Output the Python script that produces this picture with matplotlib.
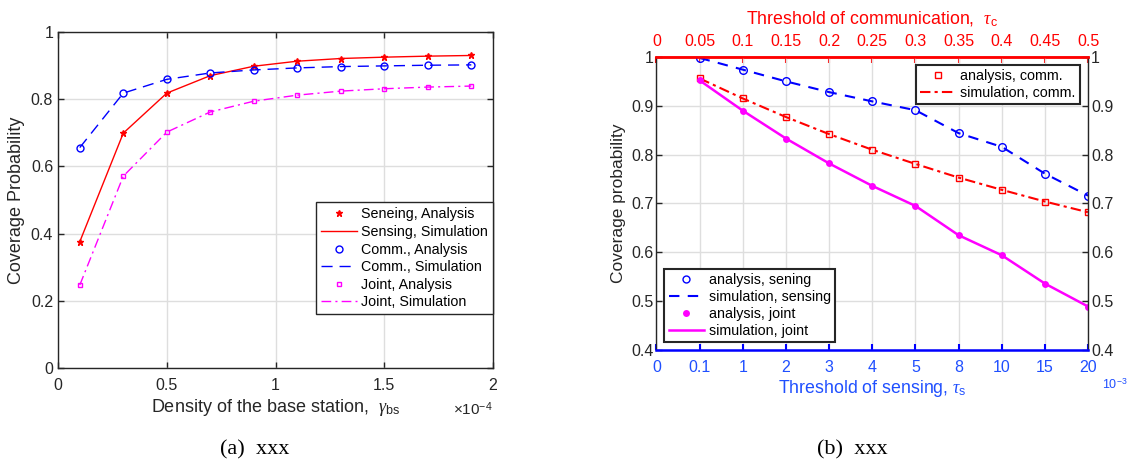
import matplotlib
matplotlib.use("Agg")
import matplotlib.pyplot as plt
from matplotlib.lines import Line2D
import numpy as np

plt.rcParams['font.family'] = ['Liberation Sans', 'DejaVu Sans']
plt.rcParams['mathtext.fontset'] = 'custom'
plt.rcParams['mathtext.rm'] = 'Liberation Sans'
plt.rcParams['mathtext.it'] = 'Liberation Serif:italic'

# ---------------- data: left panel ----------------
density = [0.1, 0.3, 0.5, 0.7, 0.9, 1.1, 1.3, 1.5, 1.7, 1.9]  # x 1e-4
sens_cov = [0.376, 0.699, 0.818, 0.870, 0.898, 0.913, 0.921, 0.925, 0.928, 0.930]
comm_cov = [0.656, 0.818, 0.859, 0.878, 0.887, 0.893, 0.897, 0.899, 0.901, 0.902]
joint_cov = [0.247, 0.571, 0.702, 0.762, 0.794, 0.812, 0.824, 0.831, 0.836, 0.839]

# ---------------- data: right panel ----------------
sens_tick_labels = ['0', '0.1', '1', '2', '3', '4', '5', '8', '10', '15', '20']
comm_tick_labels = ['0', '0.05', '0.1', '0.15', '0.2', '0.25', '0.3', '0.35', '0.4', '0.45', '0.5']
sens_cov_b = [0.998, 0.974, 0.950, 0.928, 0.909, 0.891, 0.844, 0.816, 0.761, 0.716]
comm_cov_b = [0.956, 0.915, 0.877, 0.842, 0.810, 0.781, 0.753, 0.728, 0.704, 0.682]
joint_cov_b = [0.952, 0.890, 0.833, 0.782, 0.736, 0.695, 0.635, 0.594, 0.536, 0.489]

RED = '#ff0000'
BLUE = '#0000ff'
MAG = '#ff00ff'
TXTBLUE = '#1f4fff'
DARK = '#262626'
GRID = '#dedede'
TICKFS = 11.5

fig = plt.figure(figsize=(11.27, 4.63), dpi=100)

def style(ax):
    ax.grid(True, color=GRID, linewidth=1.0)
    ax.set_axisbelow(True)
    for s in ax.spines.values():
        s.set_color(DARK)
        s.set_linewidth(1.0)
    ax.tick_params(direction='in', length=4, width=1.0, colors=DARK,
                   labelsize=TICKFS, top=True, right=True)
    ax.tick_params(axis='x', pad=7)

# ---------------- left panel ----------------
ax1 = fig.add_axes([0.0515, 0.205, 0.386, 0.726])
style(ax1)
ax1.plot(density, sens_cov, color=RED, linestyle='none', marker='*', markersize=4.5)
ax1.plot(density, sens_cov, color=RED, linestyle='-', linewidth=1.0)
ax1.plot(density, comm_cov, color=BLUE, linestyle='none', marker='o', markersize=5,
         markerfacecolor='none', markeredgewidth=1.0)
ax1.plot(density, comm_cov, color=BLUE, linestyle=(0, (8, 5)), linewidth=1.0)
ax1.plot(density, joint_cov, color=MAG, linestyle='none', marker='s', markersize=3.5,
         markerfacecolor='none', markeredgewidth=1.0)
ax1.plot(density, joint_cov, color=MAG, linestyle=(0, (7, 3, 1.5, 3)), linewidth=1.0)
ax1.set_xlim(0, 2)
ax1.set_ylim(0, 1)
ax1.set_xticks([0, 0.5, 1, 1.5, 2])
ax1.set_xticklabels(['0', '0.5', '1', '1.5', '2'])
ax1.set_yticks([0, 0.2, 0.4, 0.6, 0.8, 1])
ax1.set_yticklabels(['0', '0.2', '0.4', '0.6', '0.8', '1'])
ax1.set_xlabel(r'Density of the base station,  $\gamma_{\mathrm{bs}}$', fontsize=13,
               color=DARK, labelpad=3)
ax1.set_ylabel('Coverage Probability', fontsize=13, color=DARK, labelpad=4)
ax1.text(1.0, -0.122, r'$\times 10^{-4}$', transform=ax1.transAxes, ha='right',
         va='center', fontsize=11, color=DARK)
h1 = [Line2D([], [], color=RED, ls='none', marker='*', ms=4.5),
      Line2D([], [], color=RED, ls='-', lw=1.0),
      Line2D([], [], color=BLUE, ls='none', marker='o', ms=5, mfc='none'),
      Line2D([], [], color=BLUE, ls=(0, (8, 5)), lw=1.0),
      Line2D([], [], color=MAG, ls='none', marker='s', ms=3.5, mfc='none'),
      Line2D([], [], color=MAG, ls=(0, (7, 3, 1.5, 3)), lw=1.0)]
l1 = ['Seneing, Analysis', 'Sensing, Simulation', 'Comm., Analysis',
      'Comm., Simulation', 'Joint, Analysis', 'Joint, Simulation']
leg = ax1.legend(h1, l1, loc='lower right', bbox_to_anchor=(1.0, 0.16), fontsize=10.3,
                 frameon=True, fancybox=False, framealpha=1, edgecolor=DARK,
                 borderpad=0.35, labelspacing=0.25, handlelength=2.5, handletextpad=0.3,
                 borderaxespad=0)
leg.get_frame().set_linewidth(1.0)

# ---------------- right panel ----------------
pos = np.arange(len(sens_tick_labels))
ax2 = fig.add_axes([0.5825, 0.244, 0.383, 0.633])
style(ax2)
ax2.tick_params(top=False)
xs = pos[1:]
ax2.plot(xs, sens_cov_b, color=BLUE, ls='none', marker='o', ms=5.5, mfc='none', mew=1.0)
ax2.plot(xs, sens_cov_b, color=BLUE, ls=(0, (5, 4)), lw=1.5)
ax2.plot(xs, comm_cov_b, color=RED, ls='none', marker='s', ms=4, mfc='none', mew=1.0)
ax2.plot(xs, comm_cov_b, color=RED, ls=(0, (5, 2, 1.5, 2)), lw=1.5)
ax2.plot(xs, joint_cov_b, color=MAG, ls='none', marker='o', ms=5, mfc=MAG, mew=0)
ax2.plot(xs, joint_cov_b, color=MAG, ls='-', lw=1.8)
ax2.set_xlim(0, 10)
ax2.set_ylim(0.4, 1)
ax2.set_xticks(pos)
ax2.set_xticklabels(sens_tick_labels)
yt = [0.4, 0.5, 0.6, 0.7, 0.8, 0.9, 1]
ax2.set_yticks(yt)
ax2.set_yticklabels(['0.4', '0.5', '0.6', '0.7', '0.8', '0.9', '1'])
ax2.tick_params(axis='y', labelright=True, pad=2)
ax2.tick_params(axis='x', colors=BLUE, labelcolor=TXTBLUE, width=1.5)
ax2.spines['bottom'].set_color(BLUE)
ax2.spines['bottom'].set_linewidth(1.8)
ax2.spines['top'].set_color(RED)
ax2.spines['top'].set_linewidth(1.8)
ax2.set_xlabel(r'Threshold of sensing, $\tau_{\mathrm{s}}$', fontsize=12.8,
               color=TXTBLUE, labelpad=2)
ax2.set_ylabel('Coverage probability', fontsize=12.5, color=DARK, labelpad=4)
ax2.text(1.032, -0.12, r'$10^{-3}$', transform=ax2.transAxes, ha='left',
         va='center', fontsize=9, color=TXTBLUE)

sec = ax2.secondary_xaxis('top')
sec.set_xticks(pos)
sec.set_xticklabels(comm_tick_labels)
sec.tick_params(direction='in', length=4, width=1.5, colors=RED, labelcolor=RED,
                labelsize=TICKFS, pad=5.5)
sec.spines['top'].set_color(RED)
sec.spines['top'].set_linewidth(1.8)
sec.set_xlabel(r'Threshold of communication,  $\tau_{\mathrm{c}}$', fontsize=12.8,
               color=RED, labelpad=7)

h2a = [Line2D([], [], color=RED, ls='none', marker='s', ms=4, mfc='none'),
       Line2D([], [], color=RED, ls=(0, (5, 2, 1.5, 2)), lw=1.5)]
l2a = ['analysis, comm.', 'simulation, comm.']
lg2a = ax2.legend(h2a, l2a, loc='upper right', bbox_to_anchor=(0.981, 0.973), fontsize=10.3,
                  frameon=True, fancybox=False, framealpha=1, edgecolor=DARK,
                  borderpad=0.3, labelspacing=0.2, handlelength=2.5, handletextpad=0.3,
                  borderaxespad=0)
lg2a.get_frame().set_linewidth(1.5)
ax2.add_artist(lg2a)
h2b = [Line2D([], [], color=BLUE, ls='none', marker='o', ms=5, mfc='none'),
       Line2D([], [], color=BLUE, ls=(0, (5, 4)), lw=1.5),
       Line2D([], [], color=MAG, ls='none', marker='o', ms=5, mfc=MAG, mew=0),
       Line2D([], [], color=MAG, ls='-', lw=1.8)]
l2b = ['analysis, sening', 'simulation, sensing', 'analysis, joint', 'simulation, joint']
lg2b = ax2.legend(h2b, l2b, loc='lower left', bbox_to_anchor=(0.018, 0.027), fontsize=10.3,
                  frameon=True, fancybox=False, framealpha=1, edgecolor=DARK,
                  borderpad=0.3, labelspacing=0.2, handlelength=2.5, handletextpad=0.3,
                  borderaxespad=0)
lg2b.get_frame().set_linewidth(1.5)

# captions
fig.text(255 / 1127, 1 - 450 / 463, '(a)  xxx', ha='center', va='center',
         fontsize=16, family='Liberation Serif')
fig.text(852 / 1127, 1 - 450 / 463, '(b)  xxx', ha='center', va='center',
         fontsize=16, family='Liberation Serif')

fig.savefig('out.png', dpi=100)
